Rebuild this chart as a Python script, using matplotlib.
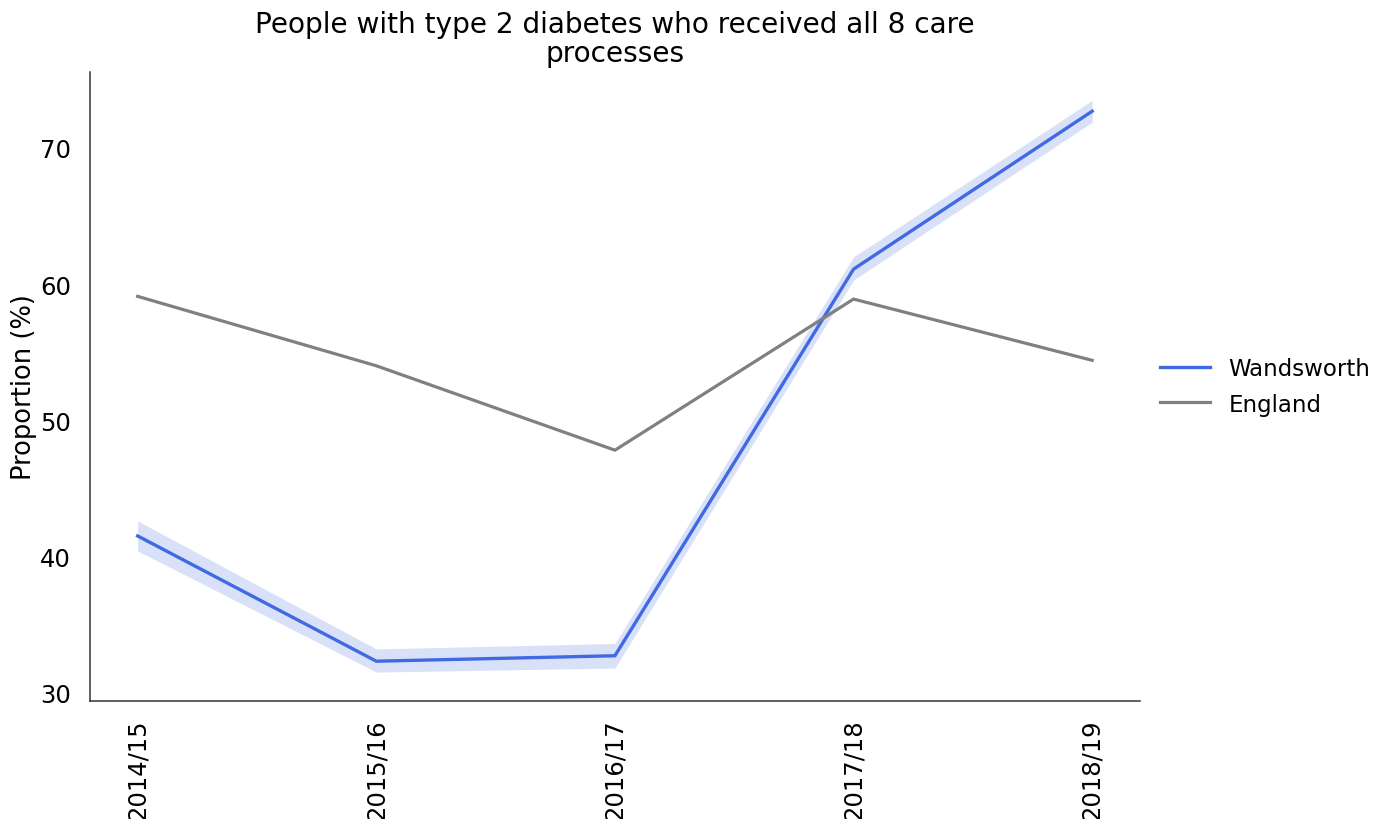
import matplotlib
matplotlib.use("Agg")
import matplotlib.pyplot as plt
import numpy as np

# Financial years on the x axis
years = ["2014/15", "2015/16", "2016/17", "2017/18", "2018/19"]

# Proportion (%) of people with type 2 diabetes receiving all 8 care processes
wandsworth = [41.5, 32.3, 32.7, 61.1, 72.7]
wandsworth_lower = [40.4, 31.5, 31.8, 60.3, 71.9]
wandsworth_upper = [42.6, 33.2, 33.6, 62.0, 73.5]
england = [59.1, 54.0, 47.8, 58.9, 54.4]

series_names = ["Wandsworth", "England"]
series_colors = ["royalblue", "grey"]

plt.rcParams["font.family"] = ["DejaVu Sans"]

fig = plt.figure(figsize=(13.9, 8.2), dpi=100)
ax = fig.add_axes([0.0647, 0.1443, 0.8201 - 0.0647, 0.9113 - 0.1443])

x = np.arange(len(years))
ax.fill_between(x, wandsworth_lower, wandsworth_upper,
                color=series_colors[0], alpha=0.2, linewidth=0)
ax.plot(x, wandsworth, color=series_colors[0], linewidth=2.4,
        label=series_names[0])
ax.plot(x, england, color=series_colors[1], linewidth=2.3,
        label=series_names[1])

ax.set_xticks(x)
ax.set_xticklabels(years, rotation=90)
ax.set_yticks([30, 40, 50, 60, 70])
ax.tick_params(axis="both", length=0, labelsize=17.5)
ax.tick_params(axis="y", pad=13.5)
ax.tick_params(axis="x", pad=13)
ax.margins(x=0.05, y=0.05)

ax.set_ylabel("Proportion (%)", fontsize=18.5, labelpad=2)
ax.set_title("People with type 2 diabetes who received all 8 care\nprocesses",
             fontsize=20.2, pad=8, linespacing=1.05)

for side in ("top", "right"):
    ax.spines[side].set_visible(False)
for side in ("left", "bottom"):
    ax.spines[side].set_color("#333333")
    ax.spines[side].set_linewidth(1.1)

ax.legend(loc="center left", bbox_to_anchor=(1.01, 0.5), frameon=False,
          fontsize=16.5, handlelength=2.2, handletextpad=0.8,
          labelspacing=0.55, borderaxespad=0)

fig.savefig("out.png", dpi=100, facecolor="white")
